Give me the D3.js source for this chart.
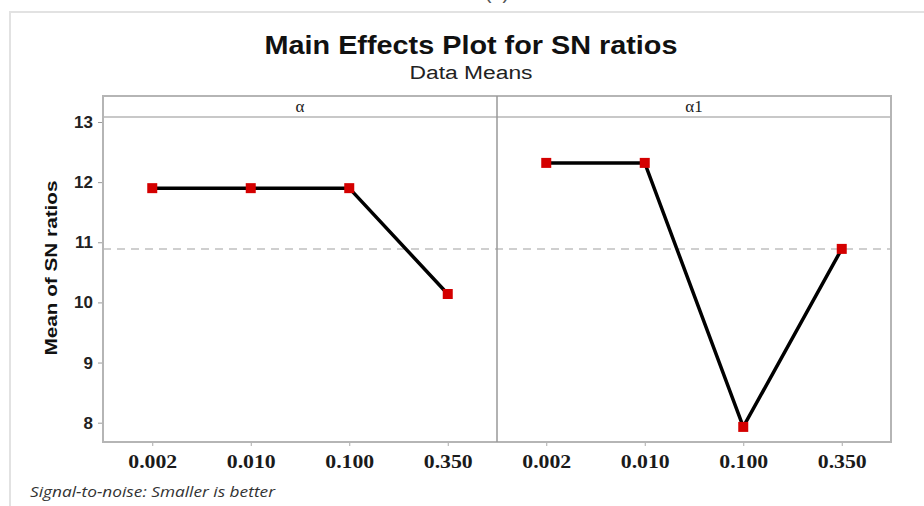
<!DOCTYPE html>
<html>
<head>
<meta charset="utf-8">
<script src="https://cdnjs.cloudflare.com/ajax/libs/d3/7.8.5/d3.min.js"></script>
<style>
  body { margin: 0; background: #fff; }
  svg { display: block; }
</style>
</head>
<body>
<svg id="chart"></svg>
<script>
const width = 924;
const height = 506;

// factor levels and SN means
const levels = ['0.002', '0.010', '0.100', '0.350'];
const factors = ['α', 'α1'];
const alphaMeans = [11.90, 11.90, 11.90, 10.14];
const alpha1Means = [12.32, 12.32, 7.93, 10.89];
const overallMean = 10.89;
const yTicks = [8, 9, 10, 11, 12, 13];

const panels = [
    { name: factors[0], values: alphaMeans },
    { name: factors[1], values: alpha1Means }
];

const plot = { left: 103, right: 891, top: 96, strip: 117, bottom: 442 };
const panelW = (plot.right - plot.left) / panels.length;

const svg = d3.select('#chart')
    .attr('width', width)
    .attr('height', height);

// outer frame
svg.append('rect')
    .attr('x', 10).attr('y', 12)
    .attr('width', 940).attr('height', 520)
    .attr('fill', 'none')
    .attr('stroke', '#e2e2e2')
    .attr('stroke-width', 2);

// panel tag, mostly above the crop like in the source
svg.append('text')
    .attr('x', 497).attr('y', -1)
    .attr('text-anchor', 'middle')
    .style('font', '20px "Liberation Sans", Arial, sans-serif')
    .attr('fill', '#555')
    .text('(a)');

svg.append('text')
    .attr('x', 471).attr('y', 54)
    .attr('text-anchor', 'middle')
    .attr('textLength', 413)
    .attr('lengthAdjust', 'spacingAndGlyphs')
    .style('font', 'bold 25px "Liberation Sans", Arial, sans-serif')
    .attr('fill', '#111')
    .text('Main Effects Plot for SN ratios');

svg.append('text')
    .attr('x', 471).attr('y', 79)
    .attr('text-anchor', 'middle')
    .attr('textLength', 123)
    .attr('lengthAdjust', 'spacingAndGlyphs')
    .style('font', '18px "Liberation Sans", Arial, sans-serif')
    .attr('fill', '#222')
    .text('Data Means');

const y = d3.scaleLinear()
    .domain([8, 13])
    .range([422.7, 122]);

// y axis
const yAxis = svg.append('g')
    .attr('transform', `translate(${plot.left},0)`)
    .call(d3.axisLeft(y).tickValues(yTicks).tickFormat(d3.format('d')).tickSize(5).tickPadding(5));
yAxis.select('.domain').remove();
yAxis.selectAll('line').attr('stroke', '#999');
yAxis.selectAll('text')
    .style('font', 'bold 17px "Liberation Sans", Arial, sans-serif')
    .attr('fill', '#222');

svg.append('text')
    .attr('transform', `translate(57,268) rotate(-90)`)
    .attr('text-anchor', 'middle')
    .attr('textLength', 175)
    .attr('lengthAdjust', 'spacingAndGlyphs')
    .style('font', 'bold 17px "Liberation Sans", Arial, sans-serif')
    .attr('fill', '#111')
    .text('Mean of SN ratios');

// reference line for the overall mean
svg.append('line')
    .attr('x1', plot.left).attr('x2', plot.right)
    .attr('y1', y(overallMean)).attr('y2', y(overallMean))
    .attr('stroke', '#cfcfcf')
    .attr('stroke-width', 2)
    .attr('stroke-dasharray', '8,6');

panels.forEach((p, i) => {
    const x0 = plot.left + i * panelW;
    const x = d3.scalePoint()
        .domain(levels)
        .range([x0, x0 + panelW])
        .padding(0.5);

    // strip
    svg.append('line')
        .attr('x1', x0).attr('x2', x0 + panelW)
        .attr('y1', plot.strip).attr('y2', plot.strip)
        .attr('stroke', '#c8c8c8').attr('stroke-width', 2);
    svg.append('text')
        .attr('x', x0 + panelW / 2).attr('y', 112)
        .attr('text-anchor', 'middle')
        .style('font', '17px "Liberation Serif", "Times New Roman", serif')
        .attr('fill', '#222')
        .text(p.name);

    // x axis
    const xAxis = svg.append('g')
        .attr('transform', `translate(0,${plot.bottom})`)
        .call(d3.axisBottom(x).tickSize(4).tickPadding(9));
    xAxis.select('.domain').remove();
    xAxis.selectAll('line').attr('stroke', '#aaa');
    xAxis.selectAll('text')
        .attr('textLength', 49)
        .attr('lengthAdjust', 'spacingAndGlyphs')
        .style('font', 'bold 18px "Liberation Serif", "Times New Roman", serif')
        .attr('fill', '#1a1a1a');

    const line = d3.line()
        .x((d, j) => x(levels[j]))
        .y(d => y(d));

    svg.append('path')
        .datum(p.values)
        .attr('d', line)
        .attr('fill', 'none')
        .attr('stroke', '#000')
        .attr('stroke-width', 3.5);

    svg.selectAll(null)
        .data(p.values)
        .enter().append('rect')
        .attr('x', (d, j) => x(levels[j]) - 5)
        .attr('y', d => y(d) - 5)
        .attr('width', 10).attr('height', 10)
        .attr('fill', '#d40000');
});

// panel border and divider
svg.append('rect')
    .attr('x', plot.left).attr('y', plot.top)
    .attr('width', plot.right - plot.left)
    .attr('height', plot.bottom - plot.top)
    .attr('fill', 'none')
    .attr('stroke', '#b5b5b5')
    .attr('stroke-width', 2);

svg.append('line')
    .attr('x1', plot.left + panelW).attr('x2', plot.left + panelW)
    .attr('y1', plot.top).attr('y2', plot.bottom)
    .attr('stroke', '#999')
    .attr('stroke-width', 1.5);

svg.append('text')
    .attr('x', 30).attr('y', 497)
    .attr('textLength', 245)
    .attr('lengthAdjust', 'spacingAndGlyphs')
    .style('font', 'italic 14px "Open Sans", "Noto Sans", sans-serif')
    .attr('fill', '#333')
    .text('Signal-to-noise: Smaller is better');
</script>
</body>
</html>
